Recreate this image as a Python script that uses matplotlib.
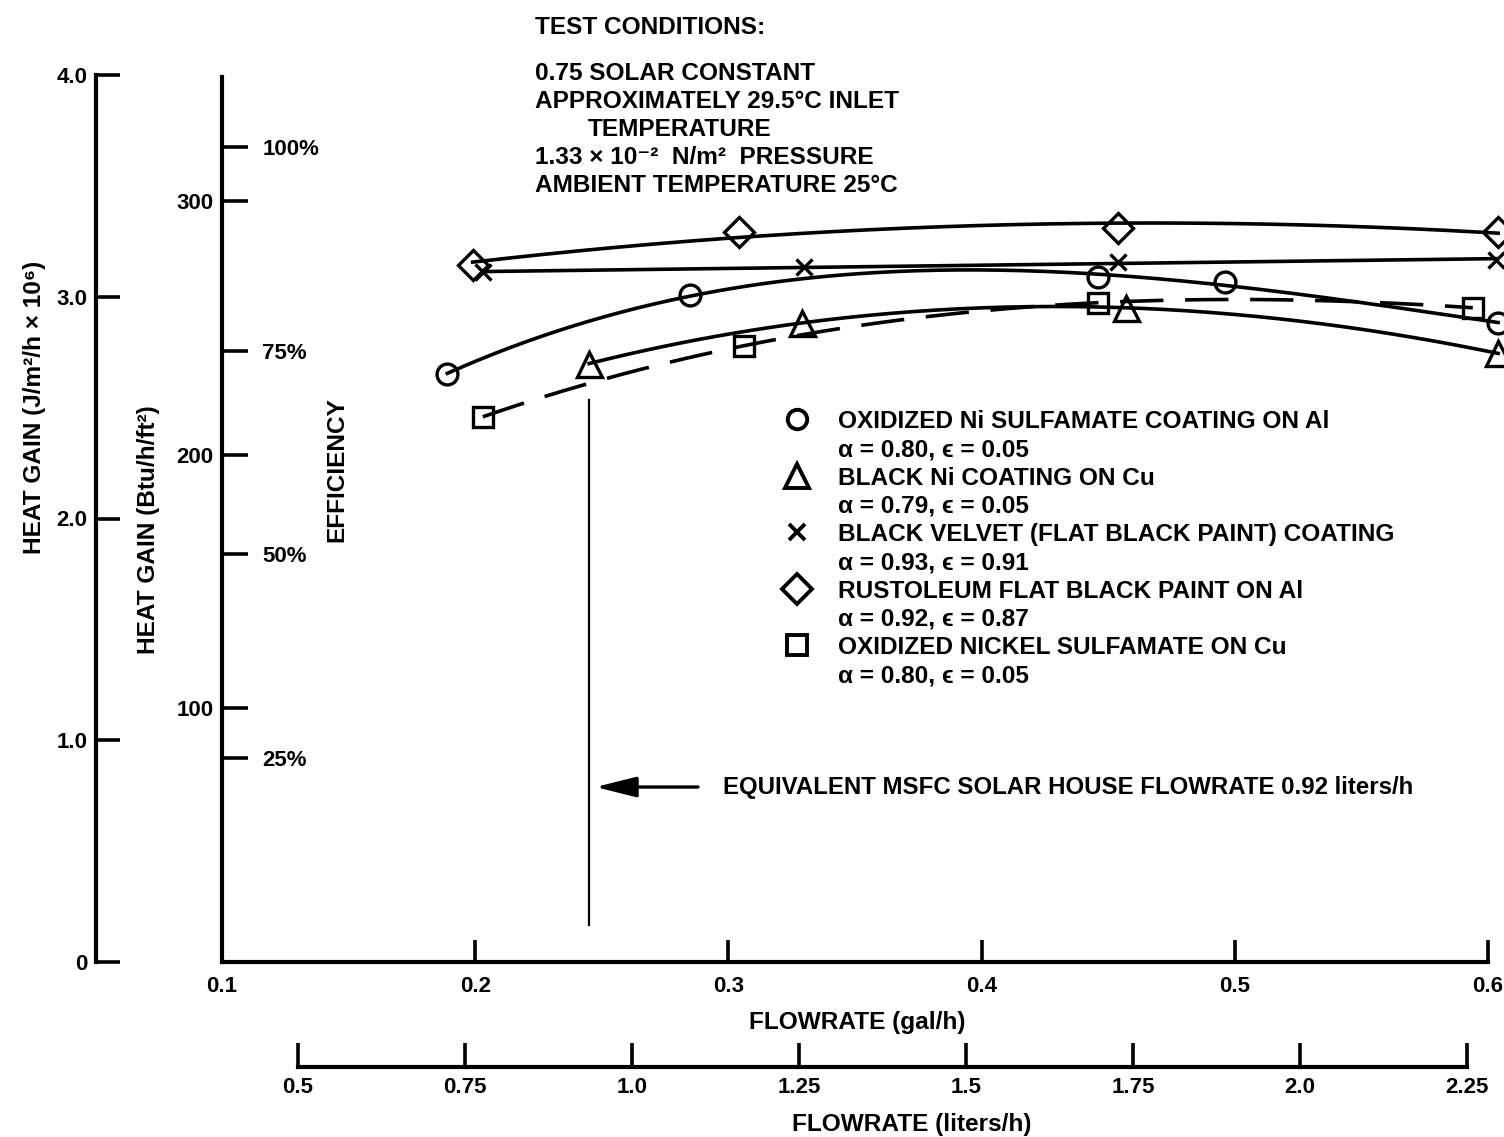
import numpy as np
import matplotlib
matplotlib.use("Agg")
import matplotlib.pyplot as plt
from matplotlib.lines import Line2D

plt.rcParams['font.family'] = ['Liberation Sans', 'DejaVu Sans']
plt.rcParams['font.weight'] = 'bold'
plt.rcParams['axes.labelweight'] = 'bold'

# ---------------- data (flowrate in gal/h, heat gain in Btu/h/ft^2) -------------
circle_x = [0.189, 0.285, 0.446, 0.496, 0.604]
circle_y = [232, 263, 270, 268, 252]
tri_x = [0.245, 0.329, 0.457, 0.604]
tri_y = [236, 252, 258, 240]
cross_x = [0.203, 0.330, 0.454, 0.603]
cross_y = [272, 274, 276, 277]
dia_x = [0.199, 0.304, 0.454, 0.604]
dia_y = [275, 288, 289.5, 288]
sq_x = [0.203, 0.306, 0.446, 0.594]
sq_y = [215, 243, 260, 258]

gal_ticks = [0.1, 0.2, 0.3, 0.4, 0.5, 0.6]
gal_labels = ["0.1", "0.2", "0.3", "0.4", "0.5", "0.6"]
btu_ticks = [100, 200, 300]
eff_ticks = [25, 50, 75, 100]
eff_labels = ["25%", "50%", "75%", "100%"]
j_ticks = [0, 1.0, 2.0, 3.0, 4.0]
j_labels = ["0", "1.0", "2.0", "3.0", "4.0"]
liter_ticks = [0.5, 0.75, 1.0, 1.25, 1.5, 1.75, 2.0, 2.25]
liter_labels = ["0.5", "0.75", "1.0", "1.25", "1.5", "1.75", "2.0", "2.25"]

eff_100_btu = 321.5       # heat gain equal to 100 % efficiency
msfc_gal = 0.245          # equivalent MSFC solar house flowrate (0.92 liters/h)

legend_titles = ["OXIDIZED Ni SULFAMATE COATING ON Al",
                 "BLACK Ni COATING ON Cu",
                 "BLACK VELVET (FLAT BLACK PAINT) COATING",
                 "RUSTOLEUM FLAT BLACK PAINT ON Al",
                 "OXIDIZED NICKEL SULFAMATE ON Cu"]
legend_props = ["\u03b1 = 0.80, \u03f5 = 0.05",
                "\u03b1 = 0.79, \u03f5 = 0.05",
                "\u03b1 = 0.93, \u03f5 = 0.91",
                "\u03b1 = 0.92, \u03f5 = 0.87",
                "\u03b1 = 0.80, \u03f5 = 0.05"]

conditions = ["TEST CONDITIONS:",
              "0.75 SOLAR CONSTANT",
              "APPROXIMATELY 29.5\u00b0C INLET",
              "TEMPERATURE",
              "1.33 \u00d7 10\u207b\u00b2  N/m\u00b2  PRESSURE",
              "AMBIENT TEMPERATURE 25\u00b0C"]

# ---------------- figure ----------------
W, H = 1504, 1137
fig = plt.figure(figsize=(W / 100, H / 100), dpi=100)


def fx(px):
    return px / W


def fy(py):
    return 1 - py / H


LW_SPINE = 3.0
LW_TICK = 2.6
TFS = 16      # tick label font size
LFS = 17.6    # label font size

# main axes
ax = fig.add_axes([fx(222), fy(962), fx(1488) - fx(222), fy(77) - fy(962)])
ax.set_xlim(0.1, 0.6)
ax.set_ylim(0, 349)
for s in ["top", "right"]:
    ax.spines[s].set_visible(False)
for s in ["left", "bottom"]:
    ax.spines[s].set_linewidth(LW_SPINE)
ax.set_xticks(gal_ticks)
ax.set_xticklabels(gal_labels)
ax.set_yticks(btu_ticks)
ax.set_yticklabels([str(v) for v in btu_ticks])
ax.tick_params(axis="x", direction="in", length=16, width=LW_TICK, pad=10, labelsize=TFS)
ax.tick_params(axis="y", direction="in", length=19, width=LW_TICK, pad=6, labelsize=TFS)
ax.set_xlabel("FLOWRATE (gal/h)", fontsize=LFS, va="center")
ax.xaxis.set_label_coords(fx(857), fy(1023), transform=fig.transFigure)
ax.set_ylabel("HEAT GAIN (Btu/h/ft\u00b2)", fontsize=LFS, va="center", ha="center")
ax.yaxis.set_label_coords(fx(148), fy(530), transform=fig.transFigure)


def smooth(xs, ys, deg):
    c = np.polyfit(xs, ys, deg)
    xx = np.linspace(min(xs), max(xs), 200)
    return xx, np.polyval(c, xx)


LW = 2.6
mk = dict(mfc="none", mec="black", mew=2.4, linestyle="none", clip_on=False, zorder=4)

xx, yy = smooth(circle_x, circle_y, 3)
ax.plot(xx, yy, color="black", lw=LW, clip_on=False)
ax.plot(circle_x, circle_y, marker="o", ms=15, **mk)

xx, yy = smooth(tri_x, tri_y, 3)
ax.plot(xx, yy, color="black", lw=LW, clip_on=False)
ax.plot(tri_x, tri_y, marker="^", ms=18, **mk)

xx, yy = smooth(cross_x, cross_y, 1)
ax.plot(xx, yy, color="black", lw=LW, clip_on=False)
ax.plot(cross_x, cross_y, marker="x", ms=12, **mk)

xx, yy = smooth(dia_x, dia_y, 2)
ax.plot(xx, yy, color="black", lw=LW, clip_on=False)
ax.plot(dia_x, dia_y, marker="D", ms=15, **mk)

xx, yy = smooth(sq_x, sq_y, 3)
ax.plot(xx, yy, color="black", lw=LW, clip_on=False, dashes=(12, 6))
ax.plot(sq_x, sq_y, marker="s", ms=15, **mk)

# MSFC flowrate marker line and arrow
ax.plot([msfc_gal, msfc_gal], [14.6, 221.7], color="black", lw=1.6)
ax.annotate("", xy=(msfc_gal + 0.0025, 69), xytext=(0.288, 69),
            arrowprops=dict(arrowstyle="-|>,head_length=1.0,head_width=0.25",
                            mutation_scale=25, lw=2.4, color="black",
                            shrinkA=0, shrinkB=0))
ax.text(0.298, 69, "EQUIVALENT MSFC SOLAR HOUSE FLOWRATE 0.92 liters/h",
        fontsize=17.3, va="center", ha="left")

# legend (marker on title rows, blank handles on property rows)
markers = ["o", "^", "x", "D", "s"]
msizes = [14, 17, 11, 15, 14]
handles, labels = [], []
for m, s, t, p in zip(markers, msizes, legend_titles, legend_props):
    handles.append(Line2D([], [], linestyle="none", marker=m, ms=s, mfc="none",
                          mec="black", mew=2.8))
    labels.append(t)
    handles.append(Line2D([], [], linestyle="none"))
    labels.append(p)
leg = ax.legend(handles, labels, loc="upper left", bbox_to_anchor=(fx(777), fy(410)),
                bbox_transform=fig.transFigure, frameon=False, fontsize=LFS,
                handlelength=1.6, handletextpad=0.9, borderpad=0, borderaxespad=0,
                labelspacing=0.215)

# efficiency scale (on the main spine, labels to the right)
ax_e = fig.add_axes([fx(222), fy(962), 0.0001, fy(77) - fy(962)])
ax_e.set_ylim(0, 349 / eff_100_btu * 100)
ax_e.patch.set_visible(False)
for s in ax_e.spines.values():
    s.set_visible(False)
ax_e.set_xticks([])
ax_e.yaxis.tick_right()
ax_e.set_yticks(eff_ticks)
ax_e.set_yticklabels(eff_labels)
ax_e.tick_params(axis="y", direction="out", length=19, width=LW_TICK, pad=10, labelsize=TFS)
ax_e.set_ylabel("EFFICIENCY", fontsize=LFS, va="center", ha="center")
ax_e.yaxis.set_label_coords(fx(337), fy(470), transform=fig.transFigure)
ax_e.yaxis.label.set_rotation(90)

# J/m^2/h scale
ax_j = fig.add_axes([fx(96), fy(962), 0.0001, fy(75) - fy(962)])
ax_j.set_ylim(0, 4.0)
ax_j.patch.set_visible(False)
for s in ["top", "right", "bottom"]:
    ax_j.spines[s].set_visible(False)
ax_j.spines["left"].set_linewidth(LW_SPINE)
ax_j.set_xticks([])
ax_j.set_yticks(j_ticks)
ax_j.set_yticklabels(j_labels)
ax_j.tick_params(axis="y", direction="in", length=17, width=LW_TICK, pad=6, labelsize=TFS)
ax_j.set_ylabel("HEAT GAIN (J/m\u00b2/h \u00d7 10\u2076)", fontsize=LFS, va="center", ha="center")
ax_j.yaxis.set_label_coords(fx(35), fy(407), transform=fig.transFigure)

# liters/h scale
ax_l = fig.add_axes([fx(298), fy(1067), fx(1467) - fx(298), 0.0001])
ax_l.set_xlim(0.5, 2.25)
ax_l.patch.set_visible(False)
for s in ["top", "right", "left"]:
    ax_l.spines[s].set_visible(False)
ax_l.spines["bottom"].set_linewidth(LW_SPINE)
ax_l.set_yticks([])
ax_l.set_xticks(liter_ticks)
ax_l.set_xticklabels(liter_labels)
ax_l.tick_params(axis="x", direction="in", length=17, width=LW_TICK, pad=7, labelsize=TFS)
ax_l.set_xlabel("FLOWRATE (liters/h)", fontsize=LFS, va="center")
ax_l.xaxis.set_label_coords(fx(912), fy(1124), transform=fig.transFigure)

# test conditions block
cond_pos = [(535, 28), (535, 73), (535, 101), (588, 129), (535, 157), (535, 185)]
for txt, (px, py) in zip(conditions, cond_pos):
    fig.text(fx(px), fy(py), txt, fontsize=LFS, va="center", ha="left")

fig.savefig("out.png", dpi=100, facecolor="white")
